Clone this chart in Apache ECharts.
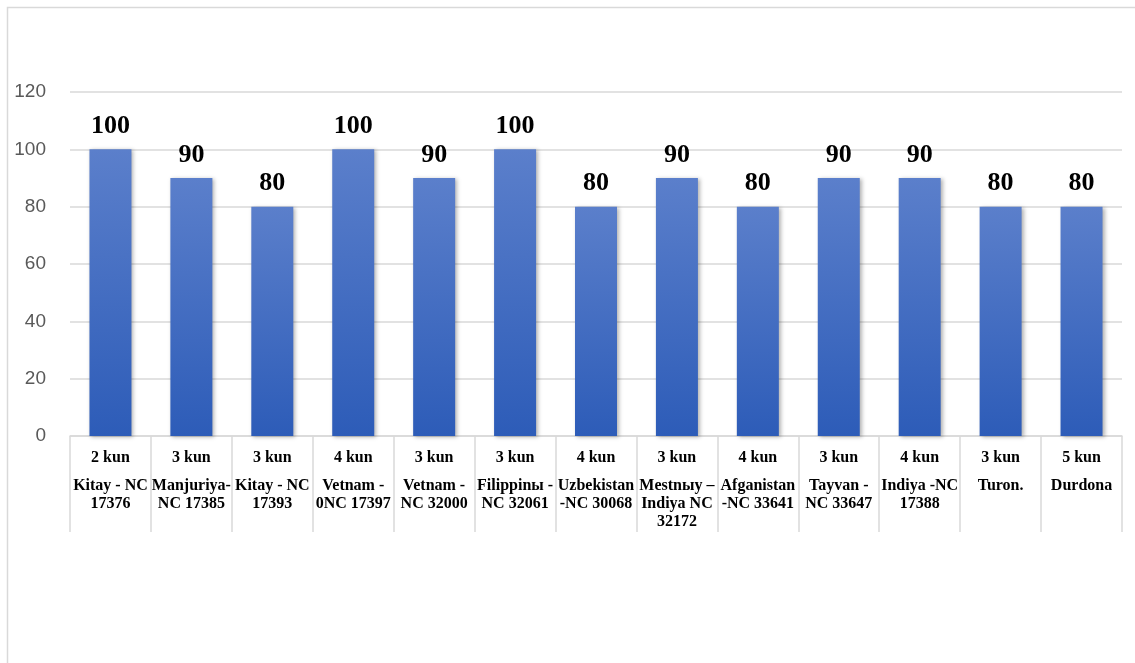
<!DOCTYPE html>
<html>
<head>
<meta charset="utf-8">
<script src="https://cdn.jsdelivr.net/npm/echarts@6/dist/echarts.min.js"></script>
<style>html,body{margin:0;padding:0;background:#fff}#c{width:1135px;height:663px}</style>
</head>
<body>
<div id="c"></div>
<script>
const days = ["2 kun","3 kun","3 kun","4 kun","3 kun","3 kun","4 kun","3 kun","4 kun","3 kun","4 kun","3 kun","5 kun"];
const names = ["Kitay - NC\n17376","Manjuriya-\nNC 17385","Kitay - NC\n17393","Vetnam -\n0NC 17397","Vetnam -\nNC 32000","Filippinы -\nNC 32061","Uzbekistan\n-NC 30068","Mestnыy –\nIndiya NC\n32172","Afganistan\n-NC 33641","Tayvan -\nNC 33647","Indiya -NC\n17388","Turon.","Durdona"];
const values = [100,90,80,100,90,100,80,90,80,90,90,80,80];
const yTicks = {min:0, max:120, interval:20};

const categories = days.map((d,i)=> d + "||" + names[i]);
const chart = echarts.init(document.getElementById('c'));
chart.setOption({
  animation:false,
  backgroundColor:'#fff',
  graphic:[{type:'rect',shape:{x:7.5,y:7.5,width:1150,height:680},style:{fill:'none',stroke:'#d9d9d9',lineWidth:1.5},silent:true}],
  grid:{left:70,right:13,top:92,bottom:227},
  xAxis:{
    type:'category',data:categories,
    axisLine:{lineStyle:{color:'#d9d9d9',width:1.5}},
    axisTick:{show:true,interval:0,length:96,lineStyle:{color:'#d9d9d9',width:1.5}},
    axisLabel:{
      interval:0,margin:12,
      formatter:function(v){
        const p=v.split("||");
        const lines=p[1].split("\n").map(s=>'{b|'+s+'}').join("\n");
        return '{a|'+p[0]+'}\n{s| }\n'+lines;
      },
      rich:{
        a:{fontFamily:'Liberation Serif',fontWeight:'bold',fontSize:16,color:'#000',lineHeight:20},
        s:{fontSize:6,lineHeight:9},
        b:{fontFamily:'Liberation Serif',fontWeight:'bold',fontSize:16,color:'#000',lineHeight:18}
      }
    }
  },
  yAxis:{
    type:'value',min:yTicks.min,max:yTicks.max,interval:yTicks.interval,
    axisLine:{show:false},axisTick:{show:false},
    splitLine:{lineStyle:{color:'#d9d9d9',width:1.5}},
    axisLabel:{fontFamily:'Liberation Sans',fontSize:19,color:'#595959',margin:24}
  },
  series:[{
    type:'bar',data:values,barWidth:42,
    itemStyle:{
      color:new echarts.graphic.LinearGradient(0,0,0,1,[{offset:0,color:'#5b7fcb'},{offset:1,color:'#2d5cb8'}]),
      shadowBlur:4,shadowColor:'rgba(0,0,0,0.3)',shadowOffsetX:2,shadowOffsetY:1
    },
    label:{show:true,position:'top',distance:10,fontFamily:'Liberation Serif',fontWeight:'bold',fontSize:26,color:'#000'}
  }]
});
</script>
</body>
</html>
